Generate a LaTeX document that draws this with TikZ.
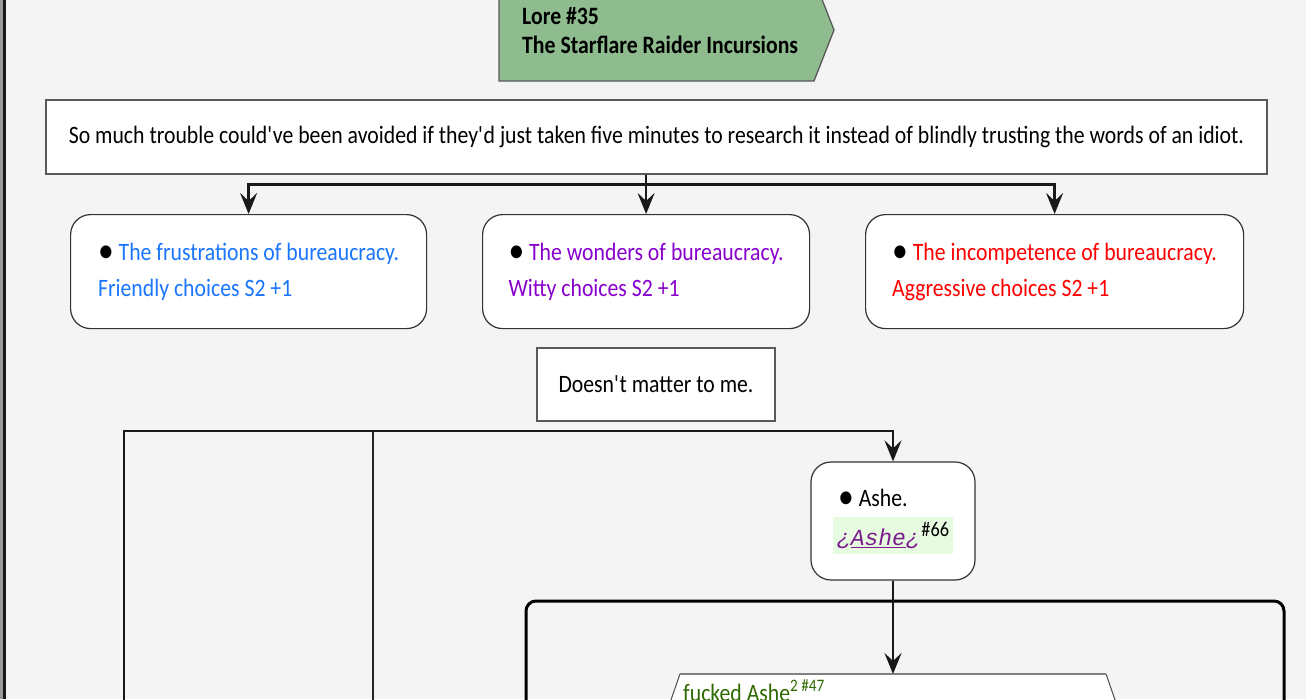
\documentclass[tikz,border=0pt]{standalone}
\usepackage{fontspec}
\setmainfont[FakeStretch=0.87]{Carlito}
\newfontfamily\codefont{Liberation Mono}
\usepackage{xcolor}
\usetikzlibrary{arrows.meta,positioning,calc}
\definecolor{pagegrey}{HTML}{F4F4F4}
\definecolor{loregreen}{HTML}{8FBC8F}
\definecolor{friendlyblue}{HTML}{1A75FF}
\definecolor{wittypurple}{HTML}{8800CC}
\definecolor{aggrored}{HTML}{FF0000}
\definecolor{linkpurple}{HTML}{7B1C8C}
\definecolor{linkgreen}{HTML}{E6FBE0}
\definecolor{scenegreen}{HTML}{2D6A00}
\newcommand\bigdot{\raisebox{-2.5pt}{\scalebox{1.45}{\textbullet}}}
\tikzset{
  linebox/.style={
    draw=black!65,
    fill=white,
    line width=1.3pt,
    inner sep=0pt,
    font=\fontsize{25}{36}\selectfont
  },
  choicebox/.style={
    draw=black!80,
    fill=white,
    rounded corners=20pt,
    line width=1.2pt,
    inner sep=0pt,
    anchor=north west,
    minimum height=114pt,
    align=left,
    font=\fontsize{25}{36}\selectfont
  },
  flow/.style={
    -{Stealth[length=21pt,width=17pt,inset=8pt]},
    line width=2.7pt,
    draw=black!90
  },
  wire/.style={
    line width=2.2pt,
    draw=black!85
  }
}

\begin{document}
\begin{tikzpicture}[x=1pt,y=-1pt]
\fill[pagegrey] (0,0) rectangle (1306,699);
\clip (0,0) rectangle (1306,699);
\fill[black!40] (0,0) rectangle (3,699);
\fill[black!90] (3,0) rectangle (6,699);

% lore header
\filldraw[fill=loregreen, draw=black!65, line width=1.3pt] (499,-21) -- (814,-21) -- (834,30) -- (814,81) -- (499,81) -- cycle;
\node[anchor=north west, inner sep=0pt, align=left, font=\fontsize{25}{29}\selectfont\bfseries] (lore) at (522,7) {Lore \#35\\The Starflare Raider Incursions};

\node[linebox, minimum width=1221pt, minimum height=74pt] (line) at (656.5,137) {So much trouble could\textquotesingle ve been avoided if they\textquotesingle d just taken five minutes to research it instead of blindly trusting the words of an idiot.};

\node[choicebox, minimum width=356pt] (friendly) at (70,214) {\bigdot\ \textcolor{friendlyblue}{The frustrations of bureaucracy.}\\\textcolor{friendlyblue}{Friendly choices S2 +1}};
\node[choicebox, minimum width=327pt] (witty) at (482,214) {\bigdot\ \textcolor{wittypurple}{The wonders of bureaucracy.}\\\textcolor{wittypurple}{Witty choices S2 +1}};
\node[choicebox, minimum width=378pt] (aggro) at (865,214) {\bigdot\ \textcolor{aggrored}{The incompetence of bureaucracy.}\\\textcolor{aggrored}{Aggressive choices S2 +1}};

\coordinate (stem) at (line.south -| witty.north);
\draw[flow] (stem) -- ++(0,10) -| (friendly.north);
\draw[flow] (stem) -- (witty.north);
\draw[flow] (stem) -- ++(0,10) -| (aggro.north);

\node[linebox, minimum width=238pt, minimum height=73pt] (nomatter) at (656,384.5) {Doesn\textquotesingle t matter to me.};

% loop wires from below
\coordinate (loopa) at (124,710);
\coordinate (loopb) at (373,710);
\coordinate (joinb) at (373,431);
\node[draw=black!80, fill=white, rounded corners=20pt, line width=1.2pt, minimum width=164pt, minimum height=118pt] (ashe) at (893,521) {};
\node[anchor=base west, inner sep=0pt, font=\fontsize{25}{36}\selectfont] (asheitem) at (838,506) {\bigdot\ Ashe.};
\node[fill=linkgreen, minimum width=120pt, minimum height=37pt, inner sep=0pt] (ashelink) at (893,535.5) {\textcolor{linkpurple}{\fontsize{23}{26}\selectfont\codefont\itshape ¿\underline{Ashe}¿}\,\raisebox{9pt}{\fontsize{21}{22}\selectfont\#66}};
\draw[flow] (loopa) -- (124,431) -| (ashe.north);
\draw[wire] (loopb) -- (joinb);

% scene block
\draw[line width=3pt, rounded corners=10pt] (526,601) rectangle (1284,780);
\fill[white] (680,674) -- (1106,674) -- (1136,760) -- (650,760) -- cycle;
\draw[black!70, line width=1pt] (1106,674) -- (1136,760);
\draw[black!70, line width=1pt] (680,674) -- (650,760);
\draw[black!50, line width=2.5pt] (680,674) -- (1106,674);
\coordinate (scenetop) at (893,674);
\node[anchor=base west, inner sep=0pt, text=scenegreen, font=\fontsize{25}{36}\selectfont] (scene) at (683,701) {fucked Ashe\textsuperscript{2 \#47}};
\draw[flow] (ashe.south) -- (scenetop);
\end{tikzpicture}
\end{document}
